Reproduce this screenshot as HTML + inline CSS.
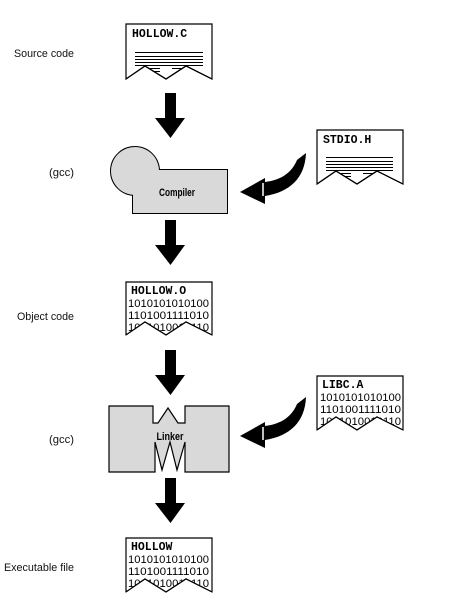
<!DOCTYPE html>
<html><head><meta charset="utf-8"><style>
html,body{margin:0;padding:0;background:#fff;}
svg{display:block;}
.lbl{font-family:"Liberation Sans",sans-serif;font-size:11px;fill:#111;}
.t{font-family:"Liberation Mono",monospace;font-weight:bold;font-size:11.5px;fill:#000;}
.b{font-family:"Liberation Sans",sans-serif;font-size:11px;fill:#000;}
.bx{font-family:"Liberation Sans",sans-serif;font-weight:bold;font-size:11px;fill:#000;}
</style></head><body>
<svg width="450" height="610" viewBox="0 0 450 610" xmlns="http://www.w3.org/2000/svg">
<defs>
<g id="arr"><path d="M165,0 H176 V25 H185 L170.5,45 L155,25 H165 Z" fill="#000"/></g>
<g id="carr">
<path d="M297,160 C292,172 282,180 265,182 L265,178 L240,192 L265,204 L265,196 C290,192 305,178 306,153 Z" fill="#000"/>
<line x1="263" y1="183" x2="263" y2="196" stroke="#fff" stroke-width="1.5"/>
</g>
</defs>

<!-- left labels -->
<text class="lbl" x="74" y="57" text-anchor="end" textLength="60" lengthAdjust="spacingAndGlyphs">Source code</text>
<text class="lbl" x="74" y="176" text-anchor="end" textLength="25" lengthAdjust="spacingAndGlyphs">(gcc)</text>
<text class="lbl" x="74" y="320" text-anchor="end" textLength="57" lengthAdjust="spacingAndGlyphs">Object code</text>
<text class="lbl" x="74" y="443" text-anchor="end" textLength="25" lengthAdjust="spacingAndGlyphs">(gcc)</text>
<text class="lbl" x="74" y="571" text-anchor="end" textLength="70" lengthAdjust="spacingAndGlyphs">Executable file</text>

<!-- HOLLOW.C -->
<g>
<path d="M126,24 H212 V79 L186,66 L166,79 L145,66 L126,79 Z" fill="#fff" stroke="#000" stroke-width="1.2"/>
<text class="t" x="132" y="37">HOLLOW.C</text>
<g stroke="#000" stroke-width="1">
<line x1="135" y1="52.5" x2="203" y2="52.5"/><line x1="135" y1="56.5" x2="203" y2="56.5"/>
<line x1="135" y1="59.5" x2="203" y2="59.5"/><line x1="135" y1="62.5" x2="203" y2="62.5"/>
<line x1="135" y1="65.5" x2="203" y2="65.5"/><line x1="150" y1="68.5" x2="160" y2="68.5"/>
<line x1="154" y1="71.5" x2="160" y2="71.5"/><line x1="172" y1="68.5" x2="182" y2="68.5"/>
</g>
<path d="M126,79 L145,66 L166,79 L186,66 L212,79" fill="none" stroke="#000" stroke-width="1.2"/>
</g>

<use href="#arr" transform="translate(0,93)"/>

<!-- STDIO.H -->
<g>
<path d="M317,130 H403 V184 L377,171 L357,184 L336,171 L317,184 Z" fill="#fff" stroke="#000" stroke-width="1.2"/>
<text class="t" x="323" y="143">STDIO.H</text>
<g stroke="#000" stroke-width="1">
<line x1="326" y1="157.5" x2="393" y2="157.5"/><line x1="326" y1="161.5" x2="393" y2="161.5"/>
<line x1="326" y1="164.5" x2="393" y2="164.5"/><line x1="326" y1="167.5" x2="393" y2="167.5"/>
<line x1="326" y1="170.5" x2="393" y2="170.5"/><line x1="341" y1="173.5" x2="351" y2="173.5"/>
<line x1="345" y1="176.5" x2="351" y2="176.5"/><line x1="363" y1="173.5" x2="373" y2="173.5"/>
</g>
<path d="M317,184 L336,171 L357,184 L377,171 L403,184" fill="none" stroke="#000" stroke-width="1.2"/>
</g>

<use href="#carr"/>

<!-- Compiler -->
<circle cx="135" cy="171" r="24" fill="#d9d9d9" stroke="#000" stroke-width="2"/>
<rect x="133" y="170" width="94" height="43" fill="#d9d9d9" stroke="#000" stroke-width="2"/>
<circle cx="135" cy="171" r="24" fill="#d9d9d9"/>
<rect x="133" y="170" width="94" height="43" fill="#d9d9d9"/>
<text class="bx" x="177" y="196" text-anchor="middle" textLength="36" lengthAdjust="spacingAndGlyphs">Compiler</text>

<use href="#arr" transform="translate(0,220)"/>

<!-- HOLLOW.O -->
<g>
<path d="M126,282 H212 V335 L186,322 L166,335 L145,322 L126,335 Z" fill="#fff" stroke="#000" stroke-width="1.2"/>
<text class="t" x="131" y="294">HOLLOW.O</text>
<text class="b" x="128" y="307" textLength="81" lengthAdjust="spacingAndGlyphs">1010101010100</text>
<text class="b" x="128" y="319" textLength="81" lengthAdjust="spacingAndGlyphs">1101001111010</text>
<text class="b" x="128" y="331" textLength="81" lengthAdjust="spacingAndGlyphs">1001010010110</text>
<path d="M125,336 L145,322 L166,335 L186,322 L213,336 V345 H125 Z" fill="#fff"/>
<path d="M126,335 L145,322 L166,335 L186,322 L212,335" fill="none" stroke="#000" stroke-width="1.2"/>
</g>

<use href="#arr" transform="translate(0,350)"/>

<!-- LIBC.A -->
<g>
<path d="M317,376 H403 V430 L377,417 L357,430 L336,417 L317,430 Z" fill="#fff" stroke="#000" stroke-width="1.2"/>
<text class="t" x="322" y="388">LIBC.A</text>
<text class="b" x="320" y="401" textLength="81" lengthAdjust="spacingAndGlyphs">1010101010100</text>
<text class="b" x="320" y="413" textLength="81" lengthAdjust="spacingAndGlyphs">1101001111010</text>
<text class="b" x="320" y="425" textLength="81" lengthAdjust="spacingAndGlyphs">1001010010110</text>
<path d="M316,431 L336,417 L357,430 L377,417 L404,431 V440 H316 Z" fill="#fff"/>
<path d="M317,430 L336,417 L357,430 L377,417 L403,430" fill="none" stroke="#000" stroke-width="1.2"/>
</g>

<use href="#carr" transform="translate(0,244)"/>

<!-- Linker -->
<path d="M109,406 H153 V423 H158 L168,408 L178,423 H185 V406 H229 V472 H185 V442 L177,470 L170,442 L162,470 L155,442 V472 H109 Z" fill="#d9d9d9" stroke="#000" stroke-width="1.2"/>
<text class="bx" x="170" y="440" text-anchor="middle" textLength="27" lengthAdjust="spacingAndGlyphs">Linker</text>

<use href="#arr" transform="translate(0,478)"/>

<!-- HOLLOW -->
<g>
<path d="M126,538 H212 V592 L186,579 L166,592 L145,579 L126,592 Z" fill="#fff" stroke="#000" stroke-width="1.2"/>
<text class="t" x="131" y="550">HOLLOW</text>
<text class="b" x="128" y="563" textLength="81" lengthAdjust="spacingAndGlyphs">1010101010100</text>
<text class="b" x="128" y="575" textLength="81" lengthAdjust="spacingAndGlyphs">1101001111010</text>
<text class="b" x="128" y="587" textLength="81" lengthAdjust="spacingAndGlyphs">1001010010110</text>
<path d="M125,593 L145,579 L166,592 L186,579 L213,593 V602 H125 Z" fill="#fff"/>
<path d="M126,592 L145,579 L166,592 L186,579 L212,592" fill="none" stroke="#000" stroke-width="1.2"/>
</g>
</svg>
</body></html>
